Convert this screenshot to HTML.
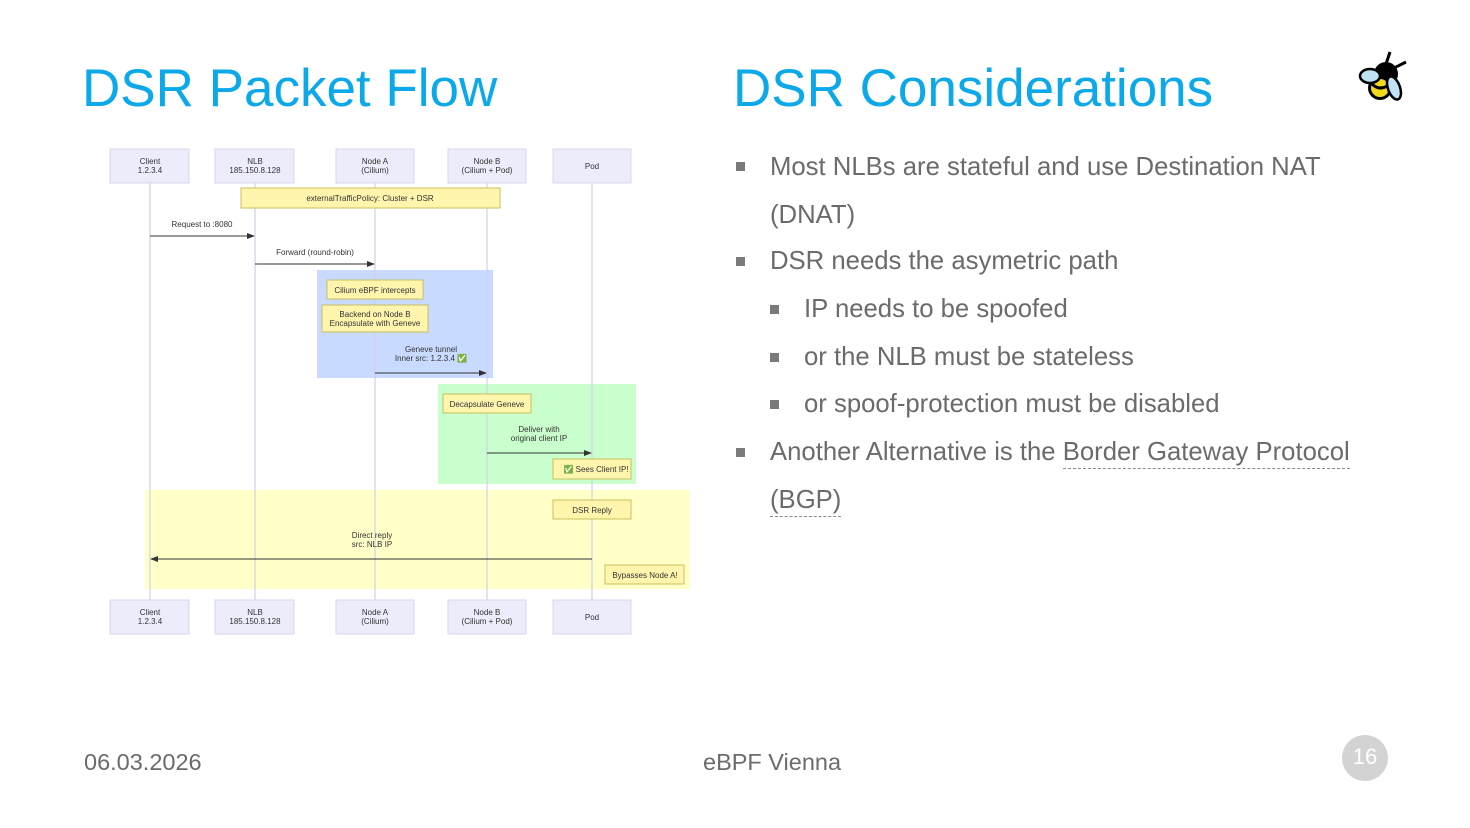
<!DOCTYPE html>
<html><head><meta charset="utf-8"><style>
body{margin:0;width:1470px;height:828px;background:#fff;position:relative;overflow:hidden;font-family:"Liberation Sans",sans-serif}
.t{position:absolute;white-space:nowrap}
.h{color:#0ba9e9;font-size:53px;top:58px}
.b{color:#6b6b6b;font-size:25.7px}
.sq{position:absolute;width:9px;height:9px;background:#7a7a7a}
.u{border-bottom:1.5px dashed #888;padding-bottom:2px}
</style></head><body>
<div class="t h" style="left:82px">DSR Packet Flow</div>
<div class="t h" style="left:733px">DSR Considerations</div>

<svg style="position:absolute;left:1356px;top:50px" width="56" height="56" viewBox="0 0 56 56">
<line x1="30" y1="14" x2="34" y2="2" stroke="#000" stroke-width="3"/>
<line x1="38" y1="18" x2="50" y2="12" stroke="#000" stroke-width="3"/>
<circle cx="30" cy="24" r="12" fill="#000"/>
<ellipse cx="24" cy="38" rx="12" ry="12" fill="#000"/>
<ellipse cx="24" cy="38" rx="9" ry="9" fill="#f2d91c"/>
<path d="M16 34 q8 8 18 0" stroke="#000" stroke-width="3" fill="none"/>
<ellipse cx="14" cy="26" rx="10" ry="7" fill="#bfe3f5" stroke="#000" stroke-width="2.5"/>
<ellipse cx="38" cy="38" rx="6" ry="12" fill="#bfe3f5" stroke="#000" stroke-width="2.5" transform="rotate(-20 38 38)"/>
</svg>

<svg style="position:absolute;left:0;top:0" width="700" height="650" font-family="Liberation Sans, sans-serif" font-size="8" fill="#333">
<defs><marker id="a" markerWidth="8" markerHeight="6" refX="7" refY="3" orient="auto"><path d="M0,0 L8,3 L0,6z" fill="#333"/></marker></defs>
<rect x="317" y="270" width="176" height="108" fill="#c8daff"/>
<rect x="438" y="384" width="198" height="100" fill="#c9ffcc"/>
<rect x="145" y="490" width="545" height="99" fill="#ffffc8"/>
<g stroke="#d0d0ea" stroke-width="1.2">
<line x1="150" y1="183" x2="150" y2="600"/><line x1="255" y1="183" x2="255" y2="600"/>
<line x1="375" y1="183" x2="375" y2="600"/><line x1="487" y1="183" x2="487" y2="600"/>
<line x1="592" y1="183" x2="592" y2="600"/></g>
<g fill="#ececfb" stroke="#d6d6f0">
<rect x="110" y="149" width="79" height="34"/><rect x="215" y="149" width="79" height="34"/>
<rect x="336" y="149" width="78" height="34"/><rect x="448" y="149" width="78" height="34"/>
<rect x="553" y="149" width="78" height="34"/>
<rect x="110" y="600" width="79" height="34"/><rect x="215" y="600" width="79" height="34"/>
<rect x="336" y="600" width="78" height="34"/><rect x="448" y="600" width="78" height="34"/>
<rect x="553" y="600" width="78" height="34"/></g>
<g text-anchor="middle">
<text x="150" y="164">Client</text><text x="150" y="173">1.2.3.4</text>
<text x="255" y="164">NLB</text><text x="255" y="173">185.150.8.128</text>
<text x="375" y="164">Node A</text><text x="375" y="173">(Cilium)</text>
<text x="487" y="164">Node B</text><text x="487" y="173">(Cilium + Pod)</text>
<text x="592" y="169">Pod</text>
<text x="150" y="615">Client</text><text x="150" y="624">1.2.3.4</text>
<text x="255" y="615">NLB</text><text x="255" y="624">185.150.8.128</text>
<text x="375" y="615">Node A</text><text x="375" y="624">(Cilium)</text>
<text x="487" y="615">Node B</text><text x="487" y="624">(Cilium + Pod)</text>
<text x="592" y="620">Pod</text>
</g>
<g fill="#fff5ad" stroke="#c8c060">
<rect x="241" y="188" width="259" height="20"/>
<rect x="327" y="280" width="96" height="19"/>
<rect x="322" y="305" width="106" height="27"/>
<rect x="443" y="394" width="88" height="19"/>
<rect x="553" y="459" width="78" height="20"/>
<rect x="553" y="500" width="78" height="19"/>
<rect x="605" y="565" width="79" height="19"/>
</g>
<g text-anchor="middle">
<text x="370" y="201">externalTrafficPolicy: Cluster + DSR</text>
<text x="375" y="293">Cilium eBPF intercepts</text>
<text x="375" y="317">Backend on Node B</text><text x="375" y="326">Encapsulate with Geneve</text>
<text x="487" y="407">Decapsulate Geneve</text>
<text x="596" y="472">✅ Sees Client IP!</text>
<text x="592" y="513">DSR Reply</text>
<text x="645" y="578">Bypasses Node A!</text>
<text x="202" y="227">Request to :8080</text>
<text x="315" y="255">Forward (round-robin)</text>
<text x="431" y="352">Geneve tunnel</text><text x="431" y="361">Inner src: 1.2.3.4 ✅</text>
<text x="539" y="432">Deliver with</text><text x="539" y="441">original client IP</text>
<text x="372" y="538">Direct reply</text><text x="372" y="547">src: NLB IP</text>
</g>
<g stroke="#333" stroke-width="1" marker-end="url(#a)">
<line x1="150" y1="236" x2="254" y2="236"/>
<line x1="255" y1="264" x2="374" y2="264"/>
<line x1="375" y1="373" x2="486" y2="373"/>
<line x1="487" y1="453" x2="591" y2="453"/>
<line x1="592" y1="559" x2="151" y2="559"/>
</g>
</svg>

<div class="sq" style="left:736px;top:162px"></div><div class="t b" style="left:770px;top:153px">Most NLBs are stateful and use Destination NAT</div>
<div class="t b" style="left:770px;top:201px">(DNAT)</div>
<div class="sq" style="left:736px;top:257px"></div><div class="t b" style="left:770px;top:247px">DSR needs the asymetric path</div>
<div class="sq" style="left:770px;top:305px"></div><div class="t b" style="left:804px;top:295px">IP needs to be spoofed</div>
<div class="sq" style="left:770px;top:353px"></div><div class="t b" style="left:804px;top:343px">or the NLB must be stateless</div>
<div class="sq" style="left:770px;top:400px"></div><div class="t b" style="left:804px;top:390px">or spoof-protection must be disabled</div>
<div class="sq" style="left:736px;top:448px"></div><div class="t b" style="left:770px;top:438px">Another Alternative is the <span class="u">Border Gateway Protocol</span></div>
<div class="t b" style="left:770px;top:486px"><span class="u">(BGP)</span></div>

<div class="t" style="left:84px;top:749px;font-size:23.5px;color:#6b6b6b">06.03.2026</div>
<div class="t" style="left:703px;top:749px;font-size:23.5px;color:#6b6b6b">eBPF Vienna</div>
<div style="position:absolute;left:1342px;top:735px;width:46px;height:46px;border-radius:50%;background:#d3d3d3;color:#fff;font-size:22px;text-align:center;line-height:44px">16</div>
</body></html>
